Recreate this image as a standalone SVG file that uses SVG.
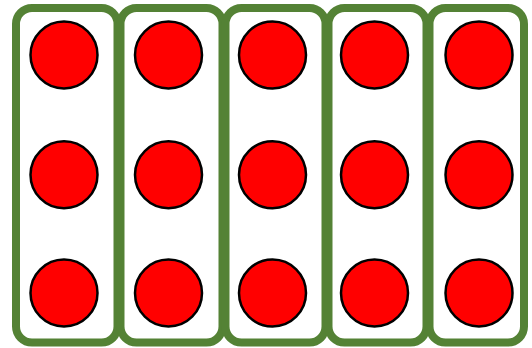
<svg xmlns="http://www.w3.org/2000/svg" width="532" height="348" viewBox="0 0 532 348">
<style>
.box{fill:#ffffff;stroke:#548235;stroke-width:8}
.dot{fill:#ff0000;stroke:#000000;stroke-width:2.5}
</style>
<rect width="532" height="348" fill="#ffffff"/>
<g id="col1"><rect class="box" x="16" y="8" width="101.5" height="334.5" rx="16"/>
<circle class="dot" cx="64" cy="55" r="33.5"/><circle class="dot" cx="64" cy="174.7" r="33.5"/><circle class="dot" cx="64" cy="293" r="33.5"/></g>
<g id="col2"><rect class="box" x="120.5" y="8" width="102" height="334.5" rx="16"/>
<circle class="dot" cx="168.5" cy="55" r="33.5"/><circle class="dot" cx="168.5" cy="174.7" r="33.5"/><circle class="dot" cx="168.5" cy="293" r="33.5"/></g>
<g id="col3"><rect class="box" x="225.5" y="8" width="100" height="334.5" rx="16"/>
<circle class="dot" cx="272.5" cy="55" r="33.5"/><circle class="dot" cx="272.5" cy="174.7" r="33.5"/><circle class="dot" cx="272.5" cy="293" r="33.5"/></g>
<g id="col4"><rect class="box" x="328.5" y="8" width="98" height="334.5" rx="16"/>
<circle class="dot" cx="374.5" cy="55" r="33.5"/><circle class="dot" cx="374.5" cy="174.7" r="33.5"/><circle class="dot" cx="374.5" cy="293" r="33.5"/></g>
<g id="col5"><rect class="box" x="429.5" y="8" width="94.5" height="334.5" rx="16"/>
<circle class="dot" cx="479" cy="55" r="33.5"/><circle class="dot" cx="479" cy="174.7" r="33.5"/><circle class="dot" cx="479" cy="293" r="33.5"/></g>
<g id="connectors"></g>
</svg>
